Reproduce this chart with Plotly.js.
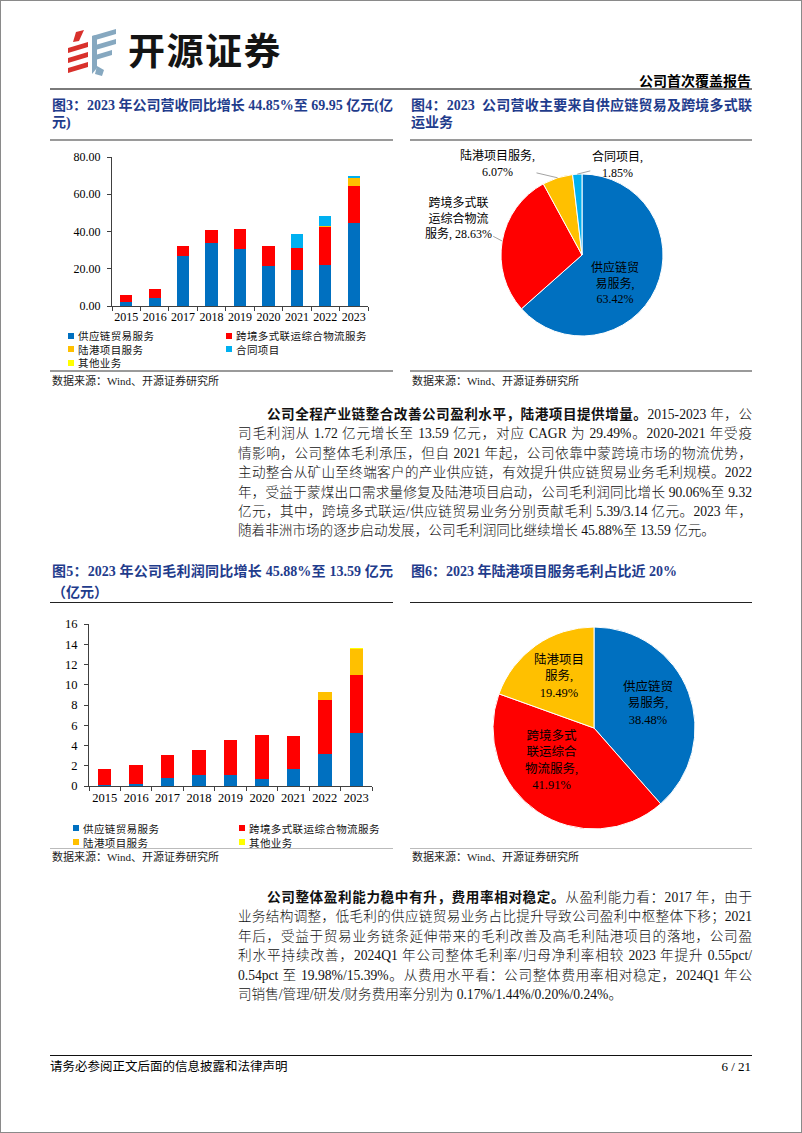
<!DOCTYPE html>
<html><head><meta charset="utf-8">
<script src="https://cdn.plot.ly/plotly-3.0.1.min.js"></script>
<style>
body{margin:0;background:#fff;}
#page{position:relative;width:802px;height:1133px;overflow:hidden;background:#fff;font-family:"Liberation Serif","Noto Sans CJK SC",serif;color:#000;text-autospace:no-autospace;}
.abs{position:absolute;}
.frame{position:absolute;left:0;top:0;width:802px;height:1133px;box-sizing:border-box;border:1px solid #8a8a8a;pointer-events:none;z-index:10;}
.ftitle{position:absolute;font-weight:bold;color:#1F3C8C;font-size:14px;line-height:17px;}
.ftitle .j{text-align:justify;text-align-last:justify;}
.rule{position:absolute;height:0;}
.src{position:absolute;font-size:11px;color:#222;line-height:14px;}
.para{position:absolute;left:238px;width:514px;font-size:13.6px;line-height:19.4px;color:#111;font-weight:300;}
.para b{font-weight:700;}
.para .ln{text-align:justify;text-align-last:justify;height:19.4px;}
.para .last{text-align:left;text-align-last:left;}
.legend{position:absolute;display:grid;font-size:10.5px;letter-spacing:0.4px;color:#111;font-family:"Noto Sans CJK SC",sans-serif;}
.legend .it{display:flex;align-items:center;white-space:nowrap;}
.legend .sw{width:6px;height:6px;margin-right:4px;flex:none;}
.chart{position:absolute;}
</style></head>
<body>
<div id="page">
  <div class="frame"></div>
  <!-- header -->
  <svg class="abs" style="left:62px;top:26px" width="62" height="52" viewBox="0 0 62 52">
    <g fill="#D8312C">
      <polygon points="14,6 22,4 17,15 11,16"/>
      <polygon points="6,22 26,16 26,21 6,27"/>
      <polygon points="6,32 26,26 26,31 6,37"/>
      <polygon points="6,42 26,36 26,41 6,47"/>
    </g>
    <g fill="#86A8C0">
      <polygon points="30,10 54,3 54,8 30,15"/>
      <polygon points="30,20 54,13 54,18 30,25"/>
      <polygon points="30,30 50,24 50,29 30,35"/>
      <polygon points="30,10 35,9 35,42 30,48"/>
      <polygon points="35,40 42,44 40,50 33,48"/>
    </g>
  </svg>
  <div class="abs" style="left:128px;top:24px;font-family:'Noto Sans CJK SC',sans-serif;font-weight:700;font-size:37px;letter-spacing:1.5px;line-height:50px;color:#141414;">开源证券</div>
  <div class="abs" style="right:51px;top:73px;font-size:14px;font-weight:bold;line-height:18px;">公司首次覆盖报告</div>
  <div class="rule" style="left:50px;top:88px;width:702px;border-top:2px solid #7a7a7a;"></div>

  <!-- figure titles top -->
  <div class="ftitle" style="left:52px;top:97px;width:341px;">
    <div class="j">图3：2023 年公司营收同比增长 44.85%至 69.95 亿元(亿</div>
    <div>元)</div>
  </div>
  <div class="ftitle" style="left:411px;top:97px;width:341px;">
    <div class="j">图4：2023&nbsp; 公司营收主要来自供应链贸易及跨境多式联</div>
    <div>运业务</div>
  </div>
  <div class="rule" style="left:50px;top:139px;width:343px;border-top:2.5px solid #9a9a9a;"></div>
  <div class="rule" style="left:410px;top:139px;width:342px;border-top:2.5px solid #9a9a9a;"></div>

  <div id="fig3" class="chart" style="left:50px;top:145px;width:343px;height:190px;"></div>
  <div id="leg3" class="legend" style="left:68px;top:329px;grid-template-columns:158px 160px;grid-auto-rows:13.5px;"></div>
  <div id="fig4" class="chart" style="left:400px;top:145px;width:360px;height:222px;"></div>

  <div class="rule" style="left:50px;top:370px;width:343px;border-top:2px solid #9a9a9a;"></div>
  <div class="rule" style="left:410px;top:370px;width:342px;border-top:2px solid #9a9a9a;"></div>
  <div class="src" style="left:52px;top:374px;">数据来源：Wind、开源证券研究所</div>
  <div class="src" style="left:412px;top:374px;">数据来源：Wind、开源证券研究所</div>

  <!-- paragraph 1 -->
  <div class="para" style="top:405px;">
    <div class="ln" style="padding-left:29px;"><b>公司全程产业链整合改善公司盈利水平，陆港项目提供增量。</b>2015-2023 年，公</div>
    <div class="ln">司毛利润从 1.72 亿元增长至 13.59 亿元，对应 CAGR 为 29.49%。2020-2021 年受疫</div>
    <div class="ln">情影响，公司整体毛利承压，但自 2021 年起，公司依靠中蒙跨境市场的物流优势，</div>
    <div class="ln">主动整合从矿山至终端客户的产业供应链，有效提升供应链贸易业务毛利规模。2022</div>
    <div class="ln">年，受益于蒙煤出口需求量修复及陆港项目启动，公司毛利润同比增长 90.06%至 9.32</div>
    <div class="ln">亿元，其中，跨境多式联运/供应链贸易业务分别贡献毛利 5.39/3.14 亿元。2023 年，</div>
    <div class="ln last">随着非洲市场的逐步启动发展，公司毛利润同比继续增长 45.88%至 13.59 亿元。</div>
  </div>

  <!-- figure titles bottom -->
  <div class="ftitle" style="left:52px;top:561px;width:341px;line-height:21px;">
    <div class="j">图5：2023 年公司毛利润同比增长 45.88%至 13.59 亿元</div>
    <div>（亿元）</div>
  </div>
  <div class="ftitle" style="left:411px;top:561px;width:341px;line-height:21px;">
    <div>图6：2023 年陆港项目服务毛利占比近 20%</div>
  </div>
  <div class="rule" style="left:50px;top:602px;width:343px;border-top:1.5px solid #222;"></div>
  <div class="rule" style="left:410px;top:602px;width:342px;border-top:1.5px solid #222;"></div>

  <div id="fig5" class="chart" style="left:50px;top:612px;width:343px;height:200px;"></div>
  <div id="leg5" class="legend" style="left:73px;top:821px;grid-template-columns:166px 160px;grid-auto-rows:14px;"></div>
  <div id="fig6" class="chart" style="left:400px;top:608px;width:360px;height:240px;"></div>

  <div class="rule" style="left:50px;top:848px;width:343px;border-top:1px solid #bbb;"></div>
  <div class="rule" style="left:410px;top:848px;width:342px;border-top:1px solid #bbb;"></div>
  <div class="src" style="left:52px;top:850px;">数据来源：Wind、开源证券研究所</div>
  <div class="src" style="left:412px;top:850px;">数据来源：Wind、开源证券研究所</div>

  <!-- paragraph 2 -->
  <div class="para" style="top:888px;">
    <div class="ln" style="padding-left:29px;"><b>公司整体盈利能力稳中有升，费用率相对稳定。</b>从盈利能力看：2017 年，由于</div>
    <div class="ln">业务结构调整，低毛利的供应链贸易业务占比提升导致公司盈利中枢整体下移；2021</div>
    <div class="ln">年后，受益于贸易业务链条延伸带来的毛利改善及高毛利陆港项目的落地，公司盈</div>
    <div class="ln">利水平持续改善，2024Q1 年公司整体毛利率/归母净利率相较 2023 年提升 0.55pct/</div>
    <div class="ln">0.54pct 至 19.98%/15.39%。从费用水平看：公司整体费用率相对稳定，2024Q1 年公</div>
    <div class="ln last">司销售/管理/研发/财务费用率分别为 0.17%/1.44%/0.20%/0.24%。</div>
  </div>

  <!-- footer -->
  <div class="rule" style="left:50px;top:1055px;width:702px;border-top:1.5px solid #111;"></div>
  <div class="abs" style="left:50px;top:1059px;font-size:12.5px;line-height:16px;">请务必参阅正文后面的信息披露和法律声明</div>
  <div class="abs" style="right:51px;top:1059px;font-size:13px;line-height:16px;">6 / 21</div>
</div>

<script>
// ---------- data ----------
const years = ['2015','2016','2017','2018','2019','2020','2021','2022','2023'];

// Figure 3: revenue by business (亿元)
const revNames = ['供应链贸易服务','跨境多式联运综合物流服务','陆港项目服务','合同项目','其他业务'];
const revSupply   = [2.0, 4.5, 26.8, 33.6, 30.6, 21.4, 19.2, 21.8, 44.36];
const revCross    = [4.1, 4.85, 5.2, 7.0, 10.8, 11.0, 11.9, 20.4, 20.03];
const revPort     = [0, 0, 0, 0, 0, 0, 0, 0.9, 4.25];
const revContract = [0, 0, 0, 0, 0, 0, 7.4, 5.2, 1.29];
const revOther    = [0, 0, 0, 0, 0, 0, 0, 0, 0.02];

// Figure 4: 2023 revenue mix (%)
const mixRevNames  = ['供应链贸易服务','跨境多式联运综合物流服务','陆港项目服务','合同项目'];
const mixRevLabels = [['供应链贸','易服务,'],['跨境多式联','运综合物流','服务,'],['陆港项目服务,'],['合同项目,']];
const mixRevValues = [63.42, 28.63, 6.07, 1.85];

// Figure 5: gross profit by business (亿元)
const gpNames  = ['供应链贸易服务','跨境多式联运综合物流服务','陆港项目服务','其他业务'];
const gpSupply = [0.05, 0.23, 0.79, 1.12, 1.12, 0.66, 1.71, 3.14, 5.23];
const gpCross  = [1.67, 1.81, 2.23, 2.43, 3.41, 4.33, 3.19, 5.39, 5.70];
const gpPort   = [0, 0, 0, 0, 0, 0, 0, 0.79, 2.65];
const gpOther  = [0, 0, 0, 0, 0, 0, 0, 0, 0.01];

// Figure 6: 2023 gross profit mix (%)
const mixGpNames  = ['供应链贸易服务','跨境多式联运综合物流服务','陆港项目服务'];
const mixGpLabels = [['供应链贸','易服务,'],['跨境多式','联运综合','物流服务,'],['陆港项目','服务,']];
const mixGpValues = [38.48, 41.91, 19.49];

// ---------- style ----------
const C = {blue:'#0070C0', red:'#FF0000', orange:'#FFC000', cyan:'#00B0F0', yellow:'#FFFF00'};
const FONT = '"Liberation Serif","Noto Sans CJK SC",serif';
const cfg = {staticPlot:true, displayModeBar:false, responsive:false};

function legendHTML(id, names, colors){
  const el = document.getElementById(id);
  names.forEach((n,i)=>{
    const d = document.createElement('div'); d.className='it';
    d.innerHTML = '<span class="sw" style="background:'+colors[i]+'"></span>'+n;
    el.appendChild(d);
  });
}

function barChart(id, series, names, colors, yopt, margin, fontSize){
  const traces = series.map((s,i)=>({
    type:'bar', x:years, y:s, name:names[i], marker:{color:colors[i], line:{width:0}},
    hoverinfo:'skip'
  }));
  const axisCol = '#404040';
  const layout = {
    barmode:'stack', bargap:0.57, showlegend:false,
    margin:margin, paper_bgcolor:'rgba(0,0,0,0)', plot_bgcolor:'rgba(0,0,0,0)',
    font:{family:FONT, size:fontSize, color:'#000'},
    xaxis:{type:'category', showline:true, linecolor:axisCol, linewidth:1, ticks:'outside',
      tickson:'boundaries', ticklen:4, tickcolor:axisCol, showgrid:false, zeroline:false, tickangle:0,
      tickfont:{family:FONT,size:fontSize,color:'#000'}},
    yaxis:Object.assign({showline:true, linecolor:axisCol, linewidth:1, ticks:'outside', ticklen:4,
      tickcolor:axisCol, showgrid:false, zeroline:false, ticklabelstandoff:4,
      tickfont:{family:FONT,size:fontSize,color:'#000'}}, yopt)
  };
  Plotly.newPlot(id, traces, layout, cfg);
}

function pieChart(id, values, names, colors, labels, placement, margin, fontSize){
  const total = values.reduce((a,b)=>a+b,0);
  let cum = 0;
  const anns = values.map((v,i)=>{
    const mid = (cum + v/2)/total*2*Math.PI; cum += v;
    const p = placement[i];
    const f = p.f;
    const txt = labels[i].join('<br>') + (p.inline ? ' ' : '<br>') + v.toFixed(2) + '%';
    const a = {xref:'paper', yref:'paper', x:0.5+0.5*f*Math.sin(mid), y:0.5+0.5*f*Math.cos(mid),
      text:txt, font:{family:FONT, size:fontSize, color:'#000'}, align:'center'};
    if(p.ax!==undefined){
      Object.assign(a,{showarrow:true, ax:p.ax, ay:p.ay, arrowhead:0, arrowwidth:0.8, arrowcolor:'#8c8c8c', standoff:0});
    } else {
      Object.assign(a,{showarrow:false, xanchor:'center', yanchor:'middle', xshift:p.dx||0, yshift:p.dy||0});
    }
    return a;
  });
  const trace = {type:'pie', values:values, labels:names, sort:false, direction:'clockwise', rotation:0,
    marker:{colors:colors, line:{color:'#ffffff', width:1}}, textinfo:'none', hoverinfo:'skip'};
  const layout = {showlegend:false, margin:margin, paper_bgcolor:'rgba(0,0,0,0)', annotations:anns};
  Plotly.newPlot(id, [trace], layout, cfg);
}

// Figure 3
barChart('fig3', [revSupply, revCross, revPort, revContract, revOther], revNames,
  [C.blue, C.red, C.orange, C.cyan, C.yellow],
  {range:[0,80], dtick:20, tick0:0, tickformat:'.2f'}, {l:62, r:25, t:12, b:29}, 12);
legendHTML('leg3', revNames, [C.blue, C.red, C.orange, C.cyan, C.yellow]);

// Figure 5
barChart('fig5', [gpSupply, gpCross, gpPort, gpOther], gpNames,
  [C.blue, C.red, C.orange, C.yellow],
  {range:[0,16], dtick:2, tick0:0}, {l:39, r:21, t:12, b:26}, 12.5);
legendHTML('leg5', gpNames, [C.blue, C.red, C.orange, C.yellow]);

// Figure 4
pieChart('fig4', mixRevValues, mixRevNames, [C.blue, C.red, C.orange, C.cyan], mixRevLabels,
  [{f:0.6, dx:-11, dy:-8}, {f:1, ax:-44, ay:-23, inline:true}, {f:1, ax:-60, ay:-14}, {f:1, ax:40, ay:-10}],
  {l:101, r:97, t:29, b:31}, 12);

// Figure 6
pieChart('fig6', mixGpValues, mixGpNames, [C.blue, C.red, C.orange], mixGpLabels,
  [{f:0.6, dx:-3, dy:4}, {f:0.6, dx:-8, dy:18}, {f:0.6, dx:0, dy:2}],
  {l:93, r:65, t:19, b:19}, 12.5);
</script>
</body></html>
